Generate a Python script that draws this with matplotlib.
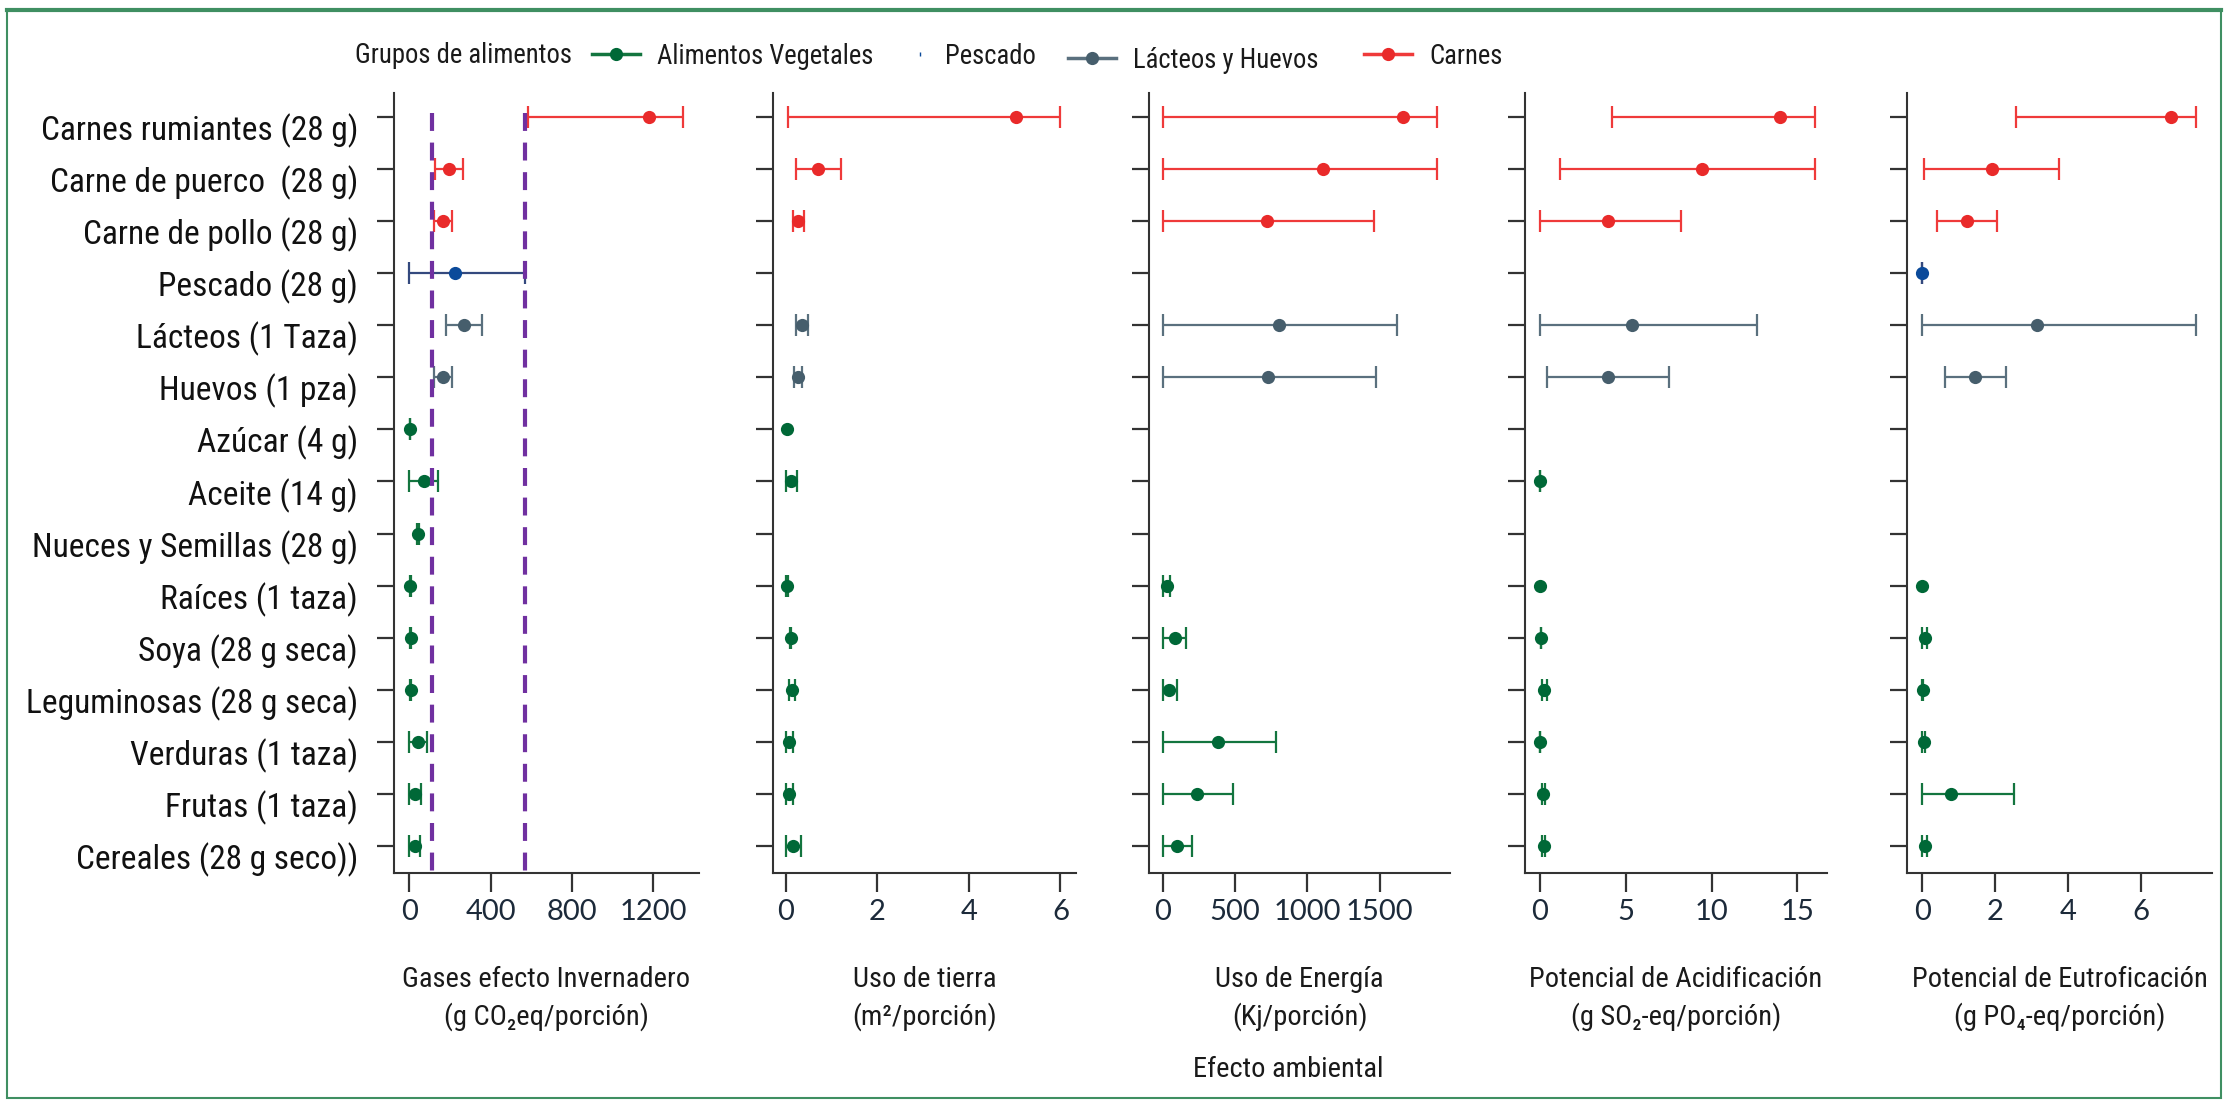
import matplotlib
matplotlib.use('Agg')
import matplotlib.pyplot as plt
from matplotlib.lines import Line2D
from matplotlib.patches import Rectangle
from matplotlib.transforms import ScaledTranslation
import numpy as np

plt.rcParams['font.family'] = ['Roboto Condensed', 'Liberation Sans Narrow', 'Liberation Sans', 'DejaVu Sans']
plt.rcParams['text.color'] = '#1a1a1a'

nan = np.nan

# alimentos, de arriba hacia abajo
alimentos = ['Carnes rumiantes (28 g)', 'Carne de puerco  (28 g)', 'Carne de pollo (28 g)',
             'Pescado (28 g)', 'Lácteos (1 Taza)', 'Huevos (1 pza)', 'Azúcar (4 g)',
             'Aceite (14 g)', 'Nueces y Semillas (28 g)', 'Raíces (1 taza)', 'Soya (28 g seca)',
             'Leguminosas (28 g seca)', 'Verduras (1 taza)', 'Frutas (1 taza)',
             'Cereales (28 g seco))']
grupo = ['Carnes'] * 3 + ['Pescado'] + ['Lacteos'] * 2 + ['Vegetales'] * 9

# gases efecto invernadero (g CO2eq/porcion)
gei = [1178, 197, 164, 226, 268, 164, 5, 71, 42, 5, 8, 8, 42, 26, 26]
gei_lo = [586, 126, 120, 0, 183, 120, 4, 0, 38, 3, 6, 6, 0, 0, 0]
gei_hi = [1347, 265, 212, 571, 360, 212, 6, 141, 46, 7, 10, 10, 87, 59, 54]

# uso de tierra (m2/porcion)
tierra = [5.02, 0.71, 0.27, nan, 0.36, 0.27, 0.02, 0.11, nan, 0.02, 0.11, 0.14, 0.08, 0.08, 0.16]
tierra_lo = [0.04, 0.22, 0.16, nan, 0.22, 0.17, nan, 0.0, nan, 0.0, 0.10, 0.07, 0.0, 0.0, 0.0]
tierra_hi = [6.0, 1.2, 0.39, nan, 0.49, 0.36, nan, 0.24, nan, 0.04, 0.12, 0.20, 0.16, 0.16, 0.33]

# uso de energia (Kj/porcion)
energia = [1660, 1106, 724, nan, 805, 728, nan, nan, nan, 28, 82, 46, 381, 240, 99]
energia_lo = [0, 0, 0, nan, 0, 0, nan, nan, nan, 0, 0, 0, 0, 0, 0]
energia_hi = [1900, 1900, 1459, nan, 1618, 1476, nan, nan, nan, 53, 159, 99, 781, 487, 205]

# potencial de acidificacion (g SO2-eq/porcion)
acidif = [13.99, 9.46, 3.95, nan, 5.37, 3.95, nan, 0.0, nan, 0.0, 0.06, 0.26, 0.03, 0.2, 0.23]
acidif_lo = [4.18, 1.18, 0.0, nan, 0.0, 0.4, nan, 0.0, nan, nan, 0.05, 0.12, 0.02, 0.12, 0.14]
acidif_hi = [16.0, 16.0, 8.25, nan, 12.64, 7.53, nan, 0.0, nan, nan, 0.07, 0.40, 0.04, 0.28, 0.32]

# potencial de eutroficacion (g PO4-eq/porcion)
eutrof = [6.82, 1.92, 1.24, 0.0, 3.14, 1.45, nan, nan, nan, 0.0, 0.07, 0.01, 0.04, 0.8, 0.07]
eutrof_lo = [2.58, 0.04, 0.41, 0.0, 0.0, 0.63, nan, nan, nan, nan, 0.0, 0.0, 0.0, 0.0, 0.0]
eutrof_hi = [7.53, 3.75, 2.05, 0.0, 7.53, 2.29, nan, nan, nan, nan, 0.14, 0.02, 0.08, 2.51, 0.14]

# referencias en el panel de gases
gei_ref = [112, 570]

paneles = [
    (gei, gei_lo, gei_hi, (-75, 1425), [0, 400, 800, 1200],
     'Gases efecto Invernadero', '(g CO₂eq/porción)'),
    (tierra, tierra_lo, tierra_hi, (-0.28, 6.34), [0, 2, 4, 6],
     'Uso de tierra', '(m²/porción)'),
    (energia, energia_lo, energia_hi, (-95, 1987), [0, 500, 1000, 1500],
     'Uso de Energía', '(Kj/porción)'),
    (acidif, acidif_lo, acidif_hi, (-0.86, 16.72), [0, 5, 10, 15],
     'Potencial de Acidificación', '(g SO₂-eq/porción)'),
    (eutrof, eutrof_lo, eutrof_hi, (-0.42, 7.96), [0, 2, 4, 6],
     'Potencial de Eutroficación', '(g PO₄-eq/porción)'),
]

# color del punto, color de la barra
estilos = {
    'Vegetales': ('#006837', '#13753f'),
    'Pescado': ('#0b4a9a', '#34497e'),
    'Lacteos': ('#465e6c', '#5a707e'),
    'Carnes': ('#e92a2a', '#ef3a3a'),
}
orden = ['Vegetales', 'Pescado', 'Lacteos', 'Carnes']
etiquetas = ['Alimentos Vegetales', 'Pescado', 'Lácteos y Huevos', 'Carnes']

W, H = 2225, 1100
fig = plt.figure(figsize=(W / 100, H / 100), dpi=100)

lefts = [394, 773, 1149, 1525, 1907]
rights = [699, 1076, 1450, 1827, 2212]
top_px, bottom_px = 93, 873

filas = np.arange(len(alimentos))
grupo = np.array(grupo)
axes = []
for i, (vals, lo, hi, xlim, ticks, lab1, lab2) in enumerate(paneles):
    ax = fig.add_axes([lefts[i] / W, 1 - bottom_px / H,
                       (rights[i] - lefts[i]) / W, (bottom_px - top_px) / H])
    axes.append(ax)
    vals, lo, hi = np.array(vals, float), np.array(lo, float), np.array(hi, float)

    for g in orden:
        punto, barra = estilos[g]
        m = (grupo == g) & ~np.isnan(vals)
        b = m & ~np.isnan(lo)
        if b.any():
            ax.errorbar(vals[b], filas[b], xerr=[vals[b] - lo[b], hi[b] - vals[b]],
                        fmt='none', ecolor=barra, elinewidth=1.6, capsize=8,
                        capthick=1.6, zorder=2)
        if m.any():
            ax.plot(vals[m], filas[m], 'o', color=punto, ms=9.5, mec='none', zorder=3)

    if i == 0:
        for xr in gei_ref:
            ax.plot([xr, xr], [0.975, -0.01], transform=ax.get_xaxis_transform(),
                    color='#7030a0', lw=3, dashes=(4.3, 2.8), clip_on=False, zorder=4)

    ax.set_xlim(*xlim)
    ax.set_ylim(14.52, -0.46)
    ax.set_xticks(ticks, labels=[str(t) for t in ticks], fontfamily='Lato', fontsize=21)
    if i == 0:
        ax.set_yticks(filas, labels=alimentos, fontsize=24)
    else:
        ax.set_yticks(filas, labels=[])
    for s in ['top', 'right']:
        ax.spines[s].set_visible(False)
    for s in ['left', 'bottom']:
        ax.spines[s].set_linewidth(1.5)
        ax.spines[s].set_color('#333333')
    ax.tick_params(axis='y', length=12, width=1.6, color='#333333', pad=14,
                   labelcolor='#111111')
    ax.tick_params(axis='x', length=13.5, width=1.6, color='#333333', pad=5,
                   labelcolor='#1c2a3a')

    cx = (lefts[i] + rights[i]) / 2 / W
    fig.text(cx, 1 - 987 / H, lab1, ha='center', va='baseline', fontsize=20.5)
    fig.text(cx, 1 - 1025 / H, lab2, ha='center', va='baseline', fontsize=20.5)

# etiquetas del eje y un poco por debajo de cada marca
bajar = ScaledTranslation(0, -0.1, fig.dpi_scale_trans)
for lab in axes[0].get_yticklabels():
    lab.set_transform(lab.get_transform() + bajar)

fig.text(1288 / W, 1 - 1077 / H, 'Efecto ambiental', ha='center', va='baseline', fontsize=20.5)

# leyenda: una entrada por grupo, cada una en su lugar
fig.text(355 / W, 1 - 63 / H, 'Grupos de alimentos', ha='left', va='baseline', fontsize=19.2)
leyenda_x = [592, 912, 1068, 1364]
leyenda_y = [56, 56, 60, 56]
for g, etq, lx, ly in zip(orden, etiquetas, leyenda_x, leyenda_y):
    punto, barra = estilos[g]
    if g == 'Pescado':
        h = Line2D([], [], color=punto, marker='|', ms=3.5, lw=0)
        largo = 0.6
    else:
        h = Line2D([], [], color=barra, lw=2.5, marker='o', ms=9.5, mfc=punto, mec='none')
        largo = 1.8
    fig.legend([h], [etq], loc='center left', bbox_to_anchor=(lx / W, 1 - ly / H),
               frameon=False, fontsize=19.2, handlelength=largo, handletextpad=0.65,
               borderpad=0, borderaxespad=0)

# marco verde
fig.patches.append(Rectangle((7 / W, 2 / H), (2221 - 7) / W, (1090 - 2) / H,
                             transform=fig.transFigure, fill=False, ec='#3f8f62', lw=1.5))
fig.lines.append(Line2D([7 / W, 2221 / W], [1 - 10 / H, 1 - 10 / H],
                        transform=fig.transFigure, color='#3f8f62', lw=3))

fig.savefig('out.png', dpi=100)
